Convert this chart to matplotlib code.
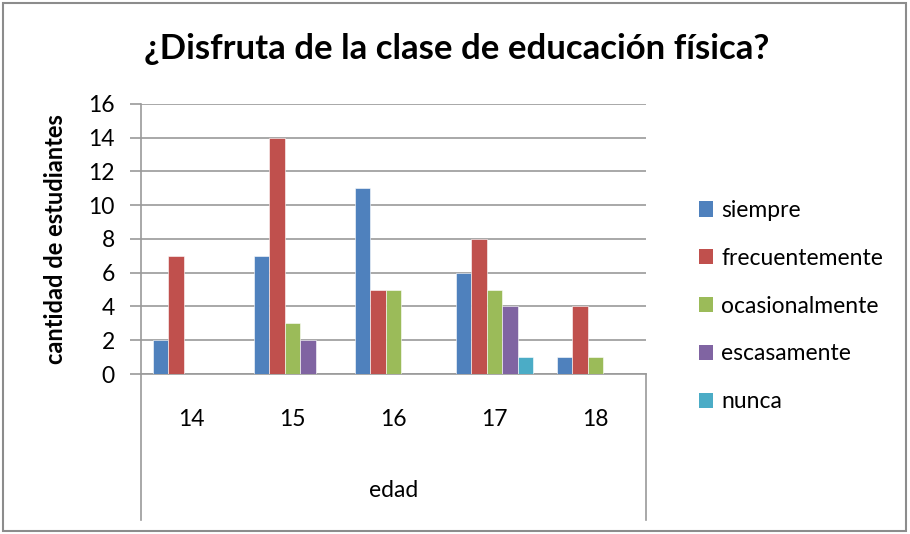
import numpy as np
import matplotlib
matplotlib.use("Agg")
import matplotlib.pyplot as plt
from matplotlib.lines import Line2D
from matplotlib.patches import Rectangle, Patch

# survey answers by age
edades = ["14", "15", "16", "17", "18"]
respuestas = ["siempre", "frecuentemente", "ocasionalmente", "escasamente", "nunca"]
siempre = [2, 7, 11, 6, 1]
frecuentemente = [7, 14, 5, 8, 4]
ocasionalmente = [0, 3, 5, 5, 1]
escasamente = [0, 2, 0, 4, 0]
nunca = [0, 0, 0, 1, 0]
series = [siempre, frecuentemente, ocasionalmente, escasamente, nunca]
colores = ["#4F81BD", "#C0504D", "#9BBB59", "#8064A2", "#4BACC6"]

plt.rcParams["font.family"] = ["Lato", "DejaVu Sans"]

fig = plt.figure(figsize=(9.1, 5.34), dpi=100)
ax = fig.add_axes([0.155, 0.2996, 0.555, 0.506])

x = np.arange(len(edades))
w = 0.154
for i, (vals, col) in enumerate(zip(series, colores)):
    ax.bar(x + (i - 2) * w, vals, width=w, color=col, edgecolor="white",
           linewidth=0.4, zorder=3)

ax.set_xlim(-0.5, 4.5)
ax.set_ylim(0, 16)
ax.set_yticks(range(0, 17, 2))
ax.yaxis.grid(True, color="#9a9a9a", linewidth=1.2, zorder=0)
ax.tick_params(axis="y", length=8, color="#9a9a9a", width=1.2, labelsize=16.5, pad=11)
ax.tick_params(axis="x", length=0, labelsize=16.5, pad=25)
ax.set_xticks(x)
ax.set_xticklabels(edades)
for s in ["top", "right"]:
    ax.spines[s].set_visible(False)
ax.spines["left"].set_color("#9a9a9a")
ax.spines["bottom"].set_color("#9a9a9a")
ax.spines["left"].set_linewidth(1.2)
ax.spines["bottom"].set_linewidth(1.2)

# category table lines below the axis
for xv in (0, 1):
    ax.add_line(Line2D([xv, xv], [0, -0.54], transform=ax.transAxes,
                       color="#9a9a9a", linewidth=1.2, clip_on=False))
ax.text(0.5, -0.43, "edad", transform=ax.transAxes, ha="center", va="center",
        fontsize=16.5)

ax.set_ylabel("cantidad de estudiantes", fontweight="bold", fontsize=17,
              labelpad=15)

fig.text(0.502, 0.908, "¿Disfruta de la clase de educación física?",
         ha="center", va="center", fontsize=25, fontweight="bold")

handles = [Patch(facecolor=c, edgecolor="none") for c in colores]
fig.legend(handles, respuestas, loc="upper left", bbox_to_anchor=(0.745, 0.664),
           frameon=False, fontsize=16.5, handlelength=0.65, handleheight=0.65,
           handletextpad=0.35, labelspacing=1.17)

# outer chart border
fig.add_artist(Rectangle((0.003, 0.006), 0.993, 0.988, transform=fig.transFigure,
                         fill=False, edgecolor="#8c8c8c", linewidth=1.5))

fig.savefig("out.png", dpi=100)
